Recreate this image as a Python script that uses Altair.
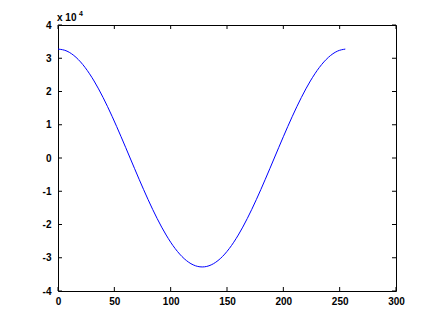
import altair as alt
import pandas as pd

# sample index and signal value
n_vals = [0, 8, 16, 24, 32, 40, 48, 56, 64, 72, 80, 88, 96, 104, 112, 120, 128,
          136, 144, 152, 160, 168, 176, 184, 192, 200, 208, 216, 224, 232, 240, 248, 255]
y_vals = [32767, 32138, 30273, 27245, 23170, 18204, 12539, 6393, 0, -6393, -12539,
          -18204, -23170, -27245, -30273, -32138, -32767, -32138, -30273, -27245,
          -23170, -18204, -12539, -6393, 0, 6393, 12539, 18204, 23170, 27245, 30273,
          32138, 32757]
x_ticks = [0, 50, 100, 150, 200, 250, 300]
y_ticks = [-40000, -30000, -20000, -10000, 0, 10000, 20000, 30000, 40000]

W, H = 338, 266
FONT = "Liberation Sans"

xs = alt.Scale(domain=[0, 300], nice=False, zero=False)
ys = alt.Scale(domain=[-40000, 40000], nice=False, zero=False)

xax = alt.Axis(values=x_ticks, title=None, ticks=False, domain=False, grid=False,
               labelFlush=False, labelOverlap=False,
               labelFont=FONT, labelFontSize=10, labelFontWeight="bold",
               labelColor="black", labelPadding=5)
yax = alt.Axis(values=y_ticks, title=None, ticks=False, domain=False, grid=False,
               labelFlush=False, labelOverlap=False,
               labelExpr="datum.value / 10000",
               labelFont=FONT, labelFontSize=10, labelFontWeight="bold",
               labelColor="black", labelPadding=7)

df = pd.DataFrame({"n": n_vals, "v": y_vals})
xt = pd.DataFrame({"t": x_ticks})
yt = pd.DataFrame({"t": y_ticks})

line = alt.Chart(df).mark_line(color="#0000ff", strokeWidth=1, interpolate="monotone").encode(
    x=alt.X("n:Q", scale=xs, axis=xax),
    y=alt.Y("v:Q", scale=ys, axis=yax),
)

bt = alt.Chart(xt).mark_rule(color="black").encode(
    x=alt.X("t:Q", scale=xs, axis=xax), y=alt.value(H), y2=alt.value(H - 4))
tt = alt.Chart(xt).mark_rule(color="black").encode(
    x=alt.X("t:Q", scale=xs, axis=xax), y=alt.value(0), y2=alt.value(4))
lt = alt.Chart(yt).mark_rule(color="black").encode(
    y=alt.Y("t:Q", scale=ys, axis=yax), x=alt.value(0), x2=alt.value(4))
rt = alt.Chart(yt).mark_rule(color="black").encode(
    y=alt.Y("t:Q", scale=ys, axis=yax), x=alt.value(W), x2=alt.value(W - 4))

mult = alt.Chart(pd.DataFrame({"s": ["x 10"]})).mark_text(
    font=FONT, fontSize=10, fontWeight="bold", align="left", baseline="alphabetic", color="black"
).encode(text="s:N", x=alt.value(-1), y=alt.value(-4))
sup = alt.Chart(pd.DataFrame({"s": ["4"]})).mark_text(
    font=FONT, fontSize=7, fontWeight="bold", align="left", baseline="alphabetic", color="black"
).encode(text="s:N", x=alt.value(21), y=alt.value(-9))

chart = alt.layer(line, bt, tt, lt, rt, mult, sup).properties(
    width=W, height=H,
    autosize=alt.AutoSizeParams(type="none"),
    padding={"left": 50, "top": 17, "right": 30, "bottom": 30},
    background="white",
).configure_view(stroke="black", strokeWidth=1)

chart.save("out.html", embed_options={"renderer": "svg", "actions": False})
